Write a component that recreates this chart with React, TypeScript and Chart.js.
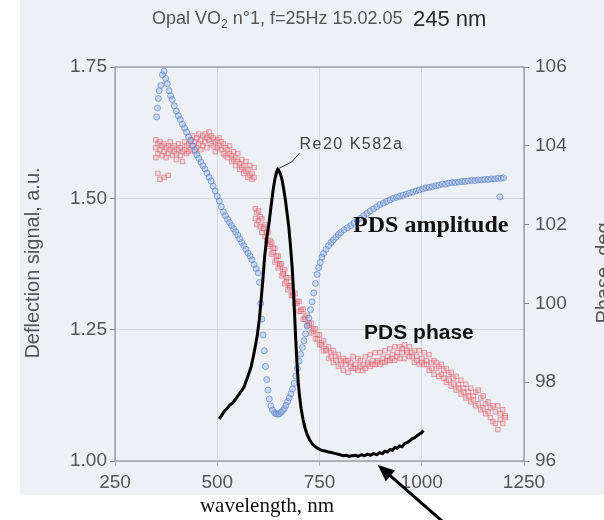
import { useEffect, useRef } from "react";
import { Chart, registerables } from "chart.js";

Chart.register(...registerables);

// ---------- data ----------
// PDS amplitude (left axis, a.u.)
const AMP_X = [
  352, 354, 356, 358, 362, 366, 370, 374, 378, 382, 386, 390, 395, 400, 405, 410, 415, 420, 425, 430,
  435, 440, 445, 450, 455, 460, 465, 470, 475, 480, 485, 490, 495, 500, 505, 510, 515, 520, 525, 530,
  535, 540, 545, 550, 555, 560, 565, 570, 575, 580, 585, 590, 595, 600, 603, 606, 609, 612, 615, 618,
  621, 624, 627, 631, 635, 640, 644, 648, 652, 656, 660, 664, 668, 672, 676, 680, 684, 688, 692, 696,
  700, 704, 708, 712, 716, 720, 724, 728, 732, 736, 740, 744, 748, 752, 756, 760, 766, 772, 778, 784,
  790, 796, 802, 810, 818, 826, 834, 842, 850, 858, 866, 874, 882, 890, 898, 906, 914, 922, 930, 938,
  946, 954, 962, 970, 978, 986, 994, 1002, 1010, 1018, 1026, 1034, 1042, 1050, 1058, 1066, 1074, 1082, 1090, 1098,
  1106, 1114, 1122, 1130, 1138, 1146, 1154, 1162, 1170, 1178, 1186, 1191, 1194, 1200,
];
const AMP_Y = [
  1.655, 1.672, 1.690, 1.705, 1.715, 1.735, 1.742, 1.728, 1.718, 1.705, 1.695, 1.688, 1.676, 1.666, 1.657, 1.650, 1.641, 1.634, 1.626, 1.617,
  1.610, 1.600, 1.592, 1.583, 1.576, 1.569, 1.562, 1.556, 1.548, 1.540, 1.533, 1.523, 1.514, 1.504, 1.495, 1.484, 1.474, 1.467, 1.460, 1.454,
  1.448, 1.442, 1.436, 1.430, 1.423, 1.416, 1.410, 1.403, 1.396, 1.390, 1.383, 1.374, 1.366, 1.358, 1.340, 1.300, 1.270, 1.240, 1.210, 1.180,
  1.155, 1.135, 1.118, 1.105, 1.097, 1.092, 1.090, 1.089, 1.090, 1.093, 1.096, 1.100, 1.106, 1.113, 1.120, 1.128, 1.137, 1.148, 1.162, 1.176,
  1.190, 1.203, 1.216, 1.229, 1.242, 1.257, 1.272, 1.288, 1.303, 1.320, 1.338, 1.355, 1.368, 1.378, 1.388, 1.395, 1.403, 1.410, 1.416, 1.421,
  1.426, 1.431, 1.435, 1.440, 1.444, 1.448, 1.453, 1.458, 1.462, 1.467, 1.471, 1.476, 1.480, 1.484, 1.488, 1.491, 1.494, 1.497, 1.500, 1.502,
  1.504, 1.506, 1.508, 1.510, 1.512, 1.514, 1.516, 1.518, 1.520, 1.521, 1.522, 1.524, 1.525, 1.527, 1.527, 1.529, 1.530, 1.530, 1.531, 1.532,
  1.532, 1.533, 1.534, 1.534, 1.535, 1.535, 1.536, 1.536, 1.537, 1.537, 1.538, 1.503, 1.538, 1.539,
];

// PDS phase (right axis, deg)
const PHASE_X = [
  350, 350, 350, 355, 355, 355, 360, 360, 360, 365, 365, 370, 370, 370, 375, 375, 380, 380, 380, 385, 385,
  390, 390, 395, 395, 400, 400, 405, 405, 410, 410, 415, 415, 420, 420, 425, 425, 430, 430, 435, 435,
  440, 440, 445, 445, 450, 450, 455, 455, 460, 460, 465, 465, 470, 470, 475, 475, 480, 480, 485, 485,
  490, 490, 495, 495, 500, 500, 505, 505, 510, 510, 515, 515, 520, 520, 525, 525, 530, 530, 535, 535,
  540, 540, 545, 545, 550, 550, 555, 555, 560, 560, 565, 565, 570, 570, 575, 575, 580, 580, 585, 585,
  590, 590,
  593, 593, 597, 597, 601, 601, 605, 605, 609, 609, 613, 613, 617, 617, 621, 621, 625, 625, 629, 629,
  633, 633, 637, 637, 641, 641, 645, 645, 649, 649, 653, 653, 657, 657, 661, 661, 665, 665, 669, 669,
  673, 673, 677, 677, 681, 681, 685, 685, 690, 690, 695, 695, 700, 700, 705, 705, 710, 710, 715, 715,
  720, 720, 725, 725, 730, 730, 735, 735, 740, 740, 745, 745, 750, 750, 755, 755, 760, 760, 766, 766,
  772, 772, 778, 778, 784, 784, 790, 790, 796, 796, 802, 802, 808, 808, 814, 814, 820, 820, 826, 826,
  832, 832, 838, 838, 844, 844, 850, 850, 856, 856, 862, 862, 868, 868, 874, 874, 880, 880, 886, 886,
  892, 892, 898, 898, 904, 904, 910, 910, 916, 916, 922, 922, 928, 928, 934, 934, 940, 940, 946, 946,
  952, 952, 958, 958, 964, 964, 970, 970, 976, 976, 982, 982, 988, 988, 994, 994, 1000, 1000, 1006, 1006,
  1012, 1012, 1018, 1018, 1024, 1024, 1030, 1030, 1036, 1036, 1042, 1042, 1048, 1048, 1054, 1054, 1060, 1060,
  1066, 1066, 1072, 1072, 1078, 1078, 1084, 1084, 1090, 1090, 1096, 1096, 1102, 1102, 1108, 1108, 1114, 1114,
  1120, 1120, 1126, 1126, 1132, 1132, 1138, 1138, 1144, 1144, 1150, 1150, 1156, 1156, 1162, 1162, 1168, 1168,
  1174, 1174, 1180, 1180, 1186, 1186, 1192, 1192, 1198, 1198, 1204, 1204,
];
const PHASE_Y = [
  103.95, 104.15, 103.7, 104.05, 103.8, 103.3, 103.9, 104.1, 103.15, 104.0, 103.75, 103.85, 104.05, 103.2, 103.95, 103.7, 104.0, 103.8, 103.25, 103.9, 104.1,
  103.75, 103.95, 103.85, 104.0, 103.8, 103.65, 103.9, 104.05, 103.75, 103.95, 103.85, 103.6, 103.9, 104.1, 103.8, 104.0, 104.05, 103.85, 104.15, 103.9,
  104.0, 104.25, 104.1, 103.85, 104.2, 103.95, 104.05, 104.3, 104.15, 103.9, 104.25, 104.0, 104.1, 104.3, 104.2, 103.95, 104.15, 104.35, 104.05, 104.25,
  104.2, 104.0, 104.1, 103.85, 104.15, 103.95, 104.0, 104.2, 103.9, 104.1, 104.05, 103.8, 103.95, 103.75, 103.9, 103.7, 103.8, 104.0, 103.75, 103.6,
  103.85, 103.65, 103.7, 103.5, 103.6, 103.8, 103.55, 103.4, 103.65, 103.45, 103.5, 103.3, 103.6, 103.35, 103.4, 103.2, 103.5, 103.25, 103.3, 103.15,
  103.45, 103.2,
  102.4, 102.15, 102.3, 102.0, 102.35, 102.1, 102.2, 101.95, 102.15, 101.8, 101.95, 101.9, 102.0, 101.7, 101.8, 101.6, 101.8, 101.45, 101.6, 101.5,
  101.55, 101.25, 101.4, 101.3, 101.4, 101.05, 101.2, 101.1, 101.2, 100.9, 101.0, 100.95, 101.0, 100.7, 100.8, 100.75, 100.85, 100.5, 100.65, 100.55,
  100.65, 100.35, 100.45, 100.4, 100.45, 100.2, 100.25, 100.2, 100.25, 100.0, 100.05, 100.0, 100.05, 99.8, 99.85, 99.8, 99.85, 99.6, 99.65, 99.6,
  99.7, 99.45, 99.5, 99.45, 99.5, 99.25, 99.35, 99.3, 99.35, 99.1, 99.2, 99.1, 99.2, 98.95, 99.0, 98.95, 99.05, 98.8, 98.85, 98.8,
  98.9, 98.6, 98.75, 98.65, 98.8, 98.5, 98.65, 98.55, 98.7, 98.4, 98.55, 98.45, 98.6, 98.3, 98.55, 98.45, 98.55, 98.25, 98.5, 98.4,
  98.65, 98.35, 98.45, 98.35, 98.6, 98.3, 98.55, 98.4, 98.45, 98.3, 98.65, 98.35, 98.5, 98.45, 98.7, 98.4, 98.55, 98.45, 98.75, 98.45,
  98.55, 98.5, 98.75, 98.45, 98.6, 98.5, 98.8, 98.5, 98.65, 98.55, 98.85, 98.55, 98.7, 98.6, 98.9, 98.55, 98.75, 98.65, 98.9, 98.6,
  98.85, 98.75, 98.95, 98.6, 98.8, 98.75, 98.9, 98.65, 98.75, 98.65, 98.8, 98.5, 98.65, 98.55, 98.8, 98.45, 98.6, 98.5, 98.75, 98.45,
  98.55, 98.45, 98.7, 98.3, 98.5, 98.35, 98.55, 98.2, 98.5, 98.35, 98.4, 98.15, 98.45, 98.2, 98.3, 98.1, 98.35, 98.0,
  98.2, 98.05, 98.25, 97.9, 98.1, 97.95, 98.15, 97.8, 97.95, 97.85, 98.05, 97.7, 97.85, 97.75, 97.95, 97.6, 97.75, 97.65,
  97.85, 97.5, 97.65, 97.55, 97.75, 97.4, 97.8, 97.45, 97.6, 97.3, 97.65, 97.35, 97.45, 97.2, 97.5, 97.25, 97.35, 97.1,
  97.4, 97.0, 97.25, 96.95, 97.4, 96.8, 97.2, 97.05, 97.3, 96.95, 97.15, 97.1,
];

// Reference curve "Re20 K582a" (left axis)
const REF_X = [
  505, 510, 515, 520, 525, 530, 537, 545, 552, 560, 566, 572, 578, 583, 588, 593, 598, 603, 607, 611,
  616, 621, 627, 632, 637, 641, 645, 648, 651, 655, 659, 663, 667, 671, 675, 679, 683, 686, 689, 692,
  695, 698, 701, 705, 710, 715, 720, 726, 733, 740, 748, 756, 764, 772, 780, 790, 800, 808, 815, 822,
  830, 838, 845, 852, 860, 868, 875, 882, 890, 897, 904, 910, 916, 922, 928, 934, 940, 946, 952, 958,
  964, 970, 976, 982, 988, 994, 1000, 1004,
];
const REF_Y = [
  1.080, 1.086, 1.092, 1.097, 1.101, 1.106, 1.110, 1.118, 1.126, 1.134, 1.142, 1.155, 1.168, 1.180, 1.198, 1.218, 1.240, 1.270, 1.305, 1.340,
  1.390, 1.425, 1.455, 1.488, 1.518, 1.537, 1.550, 1.556, 1.552, 1.545, 1.533, 1.515, 1.495, 1.470, 1.445, 1.410, 1.370, 1.330, 1.280, 1.230,
  1.185, 1.150, 1.125, 1.100, 1.078, 1.062, 1.050, 1.040, 1.032, 1.027, 1.023, 1.020, 1.019, 1.017, 1.016, 1.014, 1.012, 1.010, 1.011, 1.009,
  1.010, 1.011, 1.009, 1.012, 1.010, 1.013, 1.011, 1.014, 1.012, 1.016, 1.014, 1.019, 1.017, 1.022, 1.020, 1.026, 1.024, 1.029, 1.027, 1.033,
  1.035, 1.038, 1.042, 1.044, 1.048, 1.051, 1.054, 1.058,
];

const X_LABELS = [250, 500, 750, 1000, 1250];
const Y_LABELS = [1.0, 1.25, 1.5, 1.75];
const Y2_LABELS = [96, 98, 100, 102, 104, 106];

const SANS = "'Liberation Sans', Arial, Helvetica, sans-serif";
const SERIF = "'Liberation Serif', 'Times New Roman', serif";

const has = (arr: number[], v: number) => arr.some((a) => Math.abs(a - v) < 1e-6);

const decor = {
  id: "decor",
  beforeDraw(chart: any) {
    const { ctx, width, height } = chart;
    ctx.save();
    ctx.fillStyle = "#ffffff";
    ctx.fillRect(0, 0, width, height);
    ctx.fillStyle = "#edf1f6";
    ctx.fillRect(20, 0, width - 20, 495);
    ctx.restore();
  },
  beforeDatasetsDraw(chart: any) {
    const { ctx, chartArea: a } = chart;
    ctx.save();
    ctx.strokeStyle = "#8a8f97";
    ctx.lineWidth = 1.2;
    ctx.strokeRect(a.left, a.top, a.right - a.left, a.bottom - a.top);
    ctx.restore();
  },
  afterDraw(chart: any) {
    const { ctx } = chart;
    const xs = chart.scales.x;
    const ys = chart.scales.y;
    const y2 = chart.scales.y2;
    ctx.save();

    // title
    ctx.fillStyle = "#555";
    ctx.textBaseline = "alphabetic";
    ctx.textAlign = "left";
    let tx = 152;
    ctx.font = `18px ${SANS}`;
    ctx.fillText("Opal VO", tx, 24);
    tx += ctx.measureText("Opal VO").width;
    ctx.font = `12px ${SANS}`;
    ctx.fillText("2", tx, 28);
    tx += ctx.measureText("2").width;
    ctx.font = `18px ${SANS}`;
    ctx.fillText(" n\u00b01, f=25Hz 15.02.05", tx, 24);
    ctx.fillStyle = "#2a2a2a";
    ctx.font = `22px ${SANS}`;
    ctx.fillText("245 nm", 413, 26);

    // axis titles
    ctx.fillStyle = "#555";
    ctx.font = `20px ${SANS}`;
    ctx.textAlign = "center";
    ctx.save();
    ctx.translate(39, 263);
    ctx.rotate(-Math.PI / 2);
    ctx.fillText("Deflection signal, a.u.", 0, 0);
    ctx.restore();
    ctx.save();
    ctx.translate(610, 273);
    ctx.rotate(-Math.PI / 2);
    ctx.fillText("Phase, deg", 0, 0);
    ctx.restore();

    ctx.fillStyle = "#111";
    ctx.font = `21px ${SERIF}`;
    ctx.fillText("wavelength, nm", 267, 512);

    // series annotations
    ctx.textBaseline = "middle";
    ctx.font = `bold 24px ${SERIF}`;
    ctx.fillStyle = "#111";
    ctx.fillText("PDS amplitude", xs.getPixelForValue(1022), ys.getPixelForValue(1.447));
    ctx.font = `bold 21px ${SANS}`;
    ctx.fillText("PDS phase", xs.getPixelForValue(993), y2.getPixelForValue(99.25));

    // Re20 K582a label with leader line from peak
    let pi = 0;
    REF_Y.forEach((v, i) => { if (v > REF_Y[pi]) pi = i; });
    const px = xs.getPixelForValue(REF_X[pi]);
    const py = ys.getPixelForValue(REF_Y[pi]);
    const ex = xs.getPixelForValue(701);
    const ey = ys.getPixelForValue(1.586);
    ctx.strokeStyle = "#333";
    ctx.lineWidth = 1;
    ctx.beginPath();
    ctx.moveTo(px, py);
    ctx.lineTo(px + 14, py - 7);
    ctx.lineTo(ex, ey);
    ctx.stroke();
    ctx.textAlign = "left";
    ctx.fillStyle = "#444";
    ctx.font = `16px ${SANS}`;
    (ctx as any).letterSpacing = "1.5px";
    ctx.fillText("Re20 K582a", ex, ys.getPixelForValue(1.603));
    (ctx as any).letterSpacing = "0px";

    // arrow
    const ax = xs.getPixelForValue(892);
    const ay = ys.getPixelForValue(0.993);
    const bx = xs.getPixelForValue(1058);
    const by = ys.getPixelForValue(0.88);
    const ang = Math.atan2(ay - by, ax - bx);
    const hl = 17, hw = 7;
    ctx.strokeStyle = "#000";
    ctx.fillStyle = "#000";
    ctx.lineWidth = 3;
    ctx.beginPath();
    ctx.moveTo(bx, by);
    ctx.lineTo(ax - Math.cos(ang) * (hl - 3), ay - Math.sin(ang) * (hl - 3));
    ctx.stroke();
    ctx.beginPath();
    ctx.moveTo(ax, ay);
    ctx.lineTo(ax - Math.cos(ang) * hl + Math.sin(ang) * hw, ay - Math.sin(ang) * hl - Math.cos(ang) * hw);
    ctx.lineTo(ax - Math.cos(ang) * hl - Math.sin(ang) * hw, ay - Math.sin(ang) * hl + Math.cos(ang) * hw);
    ctx.closePath();
    ctx.fill();

    ctx.restore();
  },
};

export default function App() {
  const ref = useRef<HTMLCanvasElement>(null);
  useEffect(() => {
    const canvas = ref.current;
    if (!canvas) return;
    const tickFont = { family: SANS, size: 19 };
    const chart = new Chart(canvas, {
      type: "scatter",
      data: {
        datasets: [
          {
            label: "Re20 K582a",
            data: REF_X.map((x, i) => ({ x, y: REF_Y[i] })),
            yAxisID: "y",
            showLine: true,
            borderColor: "#000",
            borderWidth: 3,
            borderJoinStyle: "round",
            pointRadius: 0,
            tension: 0,
          } as any,
          {
            label: "PDS amplitude",
            data: AMP_X.map((x, i) => ({ x, y: AMP_Y[i] })),
            yAxisID: "y",
            pointStyle: "circle",
            pointRadius: 3,
            borderWidth: 1,
            borderColor: "rgba(80,120,190,0.6)",
            backgroundColor: "rgba(150,180,230,0.4)",
          },
          {
            label: "PDS phase",
            data: PHASE_X.map((x, i) => ({ x, y: PHASE_Y[i] })),
            yAxisID: "y2",
            pointStyle: "rect",
            pointRadius: 3.2,
            borderWidth: 1,
            borderColor: "rgba(222,85,100,0.5)",
            backgroundColor: "rgba(242,165,175,0.35)",
          },
        ],
      },
      options: {
        responsive: false,
        animation: false,
        devicePixelRatio: 1,
        layout: { padding: { top: 67, left: 0, right: 0, bottom: 0 } },
        plugins: { legend: { display: false }, tooltip: { enabled: false }, title: { display: false } },
        scales: {
          x: {
            type: "linear",
            min: 250,
            max: 1250,
            afterFit: (s: any) => { s.height = 59; },
            border: { display: false },
            grid: { color: "#d2d7de", lineWidth: 1, tickLength: 5, tickColor: "#b5bac2" },
            ticks: {
              stepSize: 50,
              maxTicksLimit: 1000,
              autoSkip: false,
              maxRotation: 0,
              padding: 5,
              color: "#555",
              font: tickFont,
              callback: (v: any) => (has(X_LABELS, Number(v)) ? String(Math.round(Number(v))) : null),
            },
          },
          y: {
            type: "linear",
            position: "left",
            min: 1.0,
            max: 1.75,
            afterFit: (s: any) => { s.width = 115; },
            border: { display: false },
            grid: { color: "#d2d7de", lineWidth: 1, tickLength: 5, tickColor: "#8a8f97" },
            ticks: {
              stepSize: 0.05,
              maxTicksLimit: 1000,
              autoSkip: false,
              padding: 3,
              color: "#555",
              font: tickFont,
              callback: (v: any) => (has(Y_LABELS, Number(v)) ? Number(v).toFixed(2) : null),
            },
          },
          y2: {
            type: "linear",
            position: "right",
            min: 96,
            max: 106,
            afterFit: (s: any) => { s.width = 80; },
            border: { display: false },
            grid: { drawOnChartArea: false, tickLength: 5, tickColor: "#8a8f97" },
            ticks: {
              stepSize: 1,
              maxTicksLimit: 1000,
              autoSkip: false,
              padding: 6,
              color: "#555",
              font: tickFont,
              callback: (v: any) => (has(Y2_LABELS, Number(v)) ? String(Math.round(Number(v))) : null),
            },
          },
        },
      } as any,
      plugins: [decor as any],
    });
    return () => chart.destroy();
  }, []);
  return (
    <div style={{ position: "absolute", left: 0, top: 0, width: 604, height: 520 }}>
      <canvas ref={ref} width={604} height={520} style={{ display: "block", width: 604, height: 520 }} />
    </div>
  );
}
